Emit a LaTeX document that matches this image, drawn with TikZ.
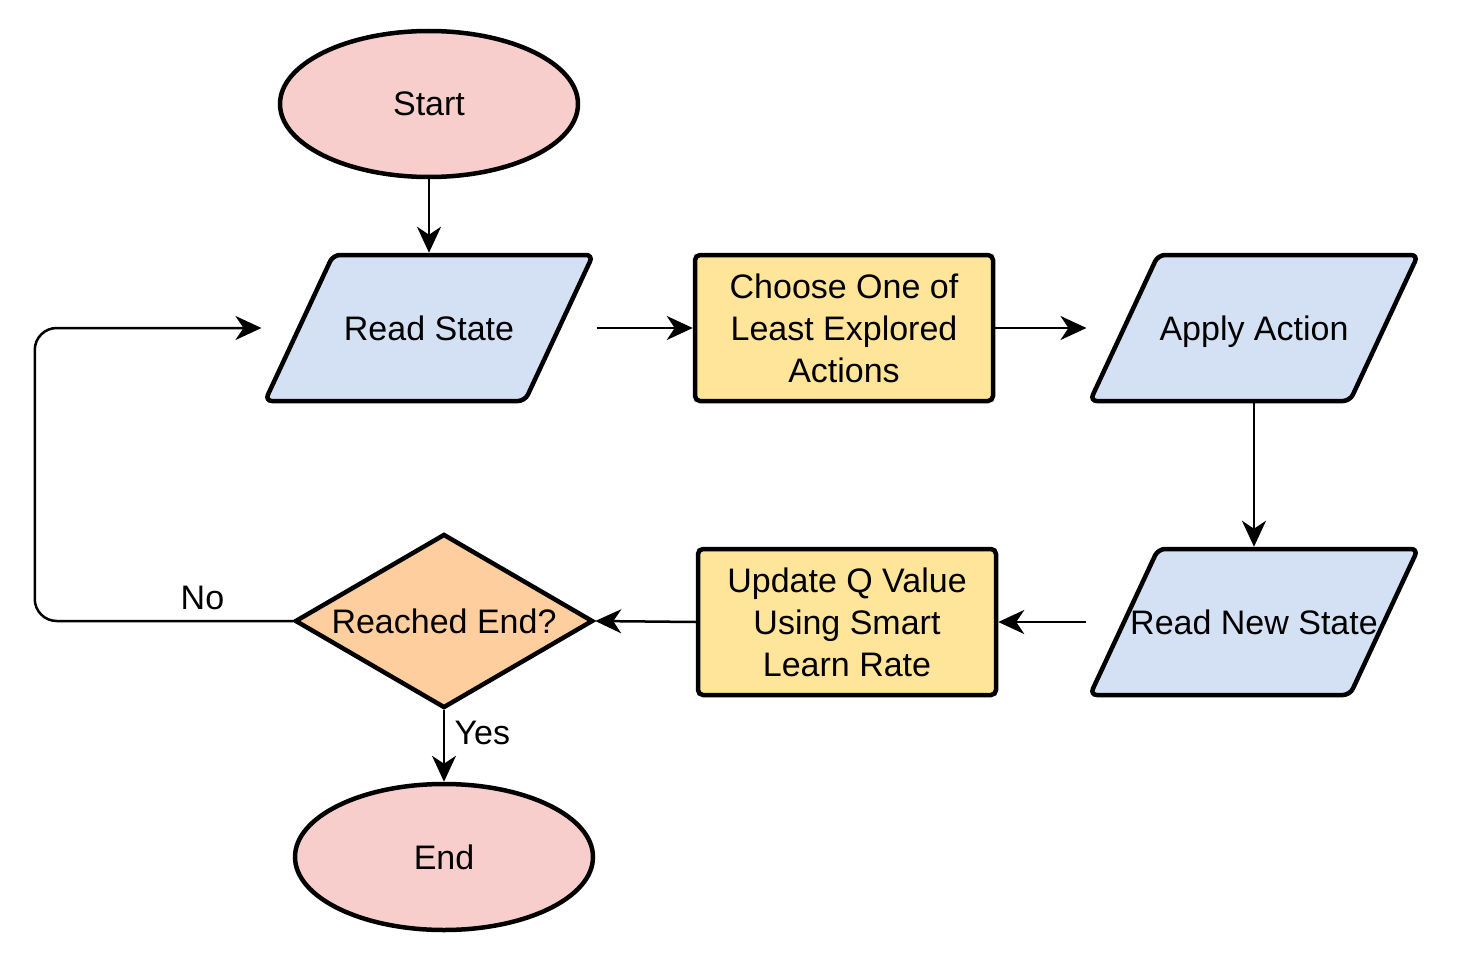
\documentclass[tikz,border=0pt]{standalone}
\usepackage{fontspec}
\setmainfont{Liberation Sans}
\usepackage{tikz}
\usetikzlibrary{shapes.geometric,arrows.meta}

\definecolor{termfill}{HTML}{F8CECC}
\definecolor{iofill}{HTML}{D4E1F5}
\definecolor{procfill}{HTML}{FFE599}
\definecolor{decfill}{HTML}{FFCE9F}

\begin{document}
\begin{tikzpicture}[x=1pt,y=-1pt,
  every node/.style={font=\fontsize{34}{42}\selectfont},
  shp/.style={draw=black,line width=4.5pt},
  term/.style={shp,ellipse,fill=termfill,minimum width=298pt,minimum height=146pt,inner sep=0pt},
  io/.style={shp,trapezium,trapezium left angle=65,trapezium right angle=115,trapezium stretches body,
    fill=iofill,minimum width=328pt,inner sep=0pt,text height=85pt,text depth=61pt,rounded corners=7pt},
  proc/.style={shp,rectangle,fill=procfill,minimum width=298pt,minimum height=146pt,align=center,rounded corners=5pt},
  dec/.style={shp,diamond,fill=decfill,minimum width=298pt,minimum height=174pt,inner sep=0pt},
  conn/.style={line width=2.5pt,-{Stealth[length=26pt,width=24pt,inset=8pt]}},
]
  \useasboundingbox (0,0) rectangle (1460,958);

  \node[term] (st) at (429,104) {Start};
  \node[io]   (rs) at (429,328) {\makebox[0pt]{Read State}};
  \node[proc] (ch) at (844,328) {Choose One of\\Least Explored\\Actions};
  \node[io]   (aa) at (1254,328) {\makebox[0pt]{Apply Action}};
  \node[io]   (rn) at (1254,622) {\makebox[0pt]{Read New State}};
  \node[proc] (up) at (847,622) {Update Q Value\\Using Smart\\Learn Rate};
  \node[dec]  (re) at (444,621) {\makebox[0pt]{Reached End?}};
  \node[term] (en) at (444,857) {End};

  % main loop
  \draw[conn] (st.south) -- (rs.north);
  \draw[conn] (rs.top right corner |- rs.center) -- (ch.west);
  \draw[conn] (ch.east) -- (aa.bottom left corner |- aa.center);
  \draw[conn] (aa.south) -- (rn.north);
  \draw[conn] (rn.bottom left corner |- rn.center) -- (up.east);
  \draw[conn] (up.west) -- (re.east);
  \draw[conn,rounded corners=22pt] (re.west) -- node[above=7pt,pos=0.35] {No} ++(-258,0)
    |- (rs.bottom left corner |- rs.center);
  \draw[conn] (re.south) -- node[right=6pt,pos=0.32] {Yes} (en.north);
\end{tikzpicture}
\end{document}
